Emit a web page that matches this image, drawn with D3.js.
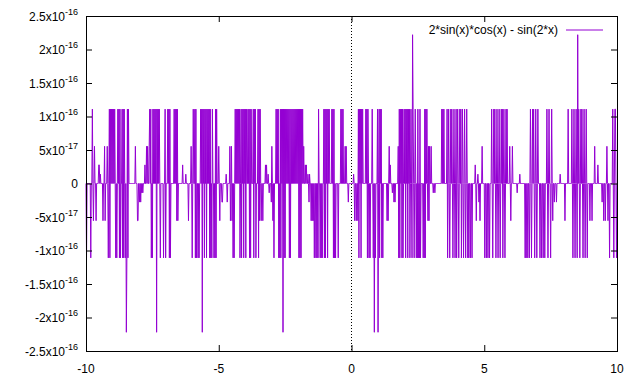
<!DOCTYPE html>
<html>
<head>
<meta charset="utf-8">
<script src="https://cdn.jsdelivr.net/npm/d3@7.9.0/dist/d3.min.js"></script>
<style>
  body { margin: 0; background: #fff; }
  svg { display: block; font-family: "Liberation Sans", Arial, sans-serif; }
</style>
</head>
<body>
<svg id="chart" width="640" height="384"></svg>
<script>
// 1001 samples over [-10, 10]; the error is exactly 0 at most of them.
// Non-zero samples: [sample index, value in units of 2^-55]
const sampleCount = 1001;
const unit = 2.7755575615628914e-17;
const nonzeroSamples = [
  [1,-4],[9,-4],[12,4],[14,-2],[16,2],[19,-2],[24,1],[25,1],[27,0.5],[32,-2],[35,2],[36,-2],[40,2],
  [42,-4],[44,4],[45,-4],[46,4],[48,4],[50,4],[52,4],[54,4],[56,-4],[58,-4],[60,4],[62,4],[63,-4],[64,4],[65,-4],
  [68,4],[69,-4],[70,4],[71,-4],[72,4],[74,-4],[76,-8],[77,-4],[78,4],[79,-4],[80,4],
  [93,2],[97,-2],[98,-2],[101,-1],[103,-1],[105,-0.5],[107,-0.5],[111,1],[114,2],[116,2],[119,2],[120,4],[122,4],
  [123,-4],[125,-4],[126,4],[128,4],[130,4],[132,4],
  [133,-8],[134,4],[136,4],[138,4],[140,-4],[146,-4],[149,4],[150,-4],[154,4],[156,4],[157,-4],[158,4],[159,-4],
  [166,4],[168,4],[170,4],[171,-2],[172,4],[173,-2],[182,1],[188,0.5],[193,-2],[198,2],[200,-4],[202,4],
  [205,4],[206,-4],[207,4],[208,-4],[211,-4],[213,-4],[216,4],[218,4],[219,-8],[220,4],
  [222,4],[223,-4],[224,4],[226,4],[227,-4],[228,4],[230,4],[232,4],[233,-4],[234,4],[235,-4],[237,-4],[238,4],
  [241,-4],[243,-4],[244,4],[245,-4],[246,4],[250,2],[252,-2],[256,-1],[257,-1],
  [264,0.5],[266,-1],[271,2],[272,-2],[274,2],[275,-2],[277,-4],[279,-4],[281,4],[283,4],[285,4],[287,4],
  [289,4],[290,-4],[292,4],[293,-4],[294,4],[296,4],[297,-4],[298,4],[300,4],[301,-4],[302,4],
  [305,4],[307,4],[308,-4],[309,4],[310,-4],[311,4],[315,4],[316,-4],[317,4],[319,4],[320,-4],
  [324,4],[325,-4],[326,4],[327,-2],[328,4],[330,-2],[333,-2],[338,1],[340,1],[343,0.5],[345,-0.5],
  [349,-1],[350,2],[352,-2],[354,-4],[358,4],[360,4],[362,4],[363,-4],[365,-4],[366,4],[367,-4],[368,4],
  [370,4],[371,-8],[372,4],[373,-4],[374,4],[375,-4],[376,4],[378,4],
  [380,4],[382,4],[383,-4],[384,4],[385,-4],[386,4],[388,4],[390,4],[392,4],[394,4],
  [396,4],[398,4],[400,4],[401,-4],[402,4],[403,-4],[404,4],[405,-4],[406,4],[408,4],
  [410,2],[413,1],[415,1],[418,0.5],[420,-1],[421,0.5],[424,-2],[426,-2],[428,-2],[430,-4],
  [433,-4],[435,-4],[437,-4],[438,4],[441,-4],[443,-4],[445,-4],
  [448,4],[449,-4],[450,4],[451,-4],[452,4],[454,4],[455,-4],[456,4],[458,4],
  [463,4],[465,4],[466,-4],[467,4],[468,-4],[470,-4],[475,-4],[480,4],[482,4],[484,4],
  [488,2],[490,2],[494,-1],[504,0.5],[506,-2],[509,-2],[512,-2],
  [513,4],[514,-4],[515,4],[517,4],[518,-4],[519,4],[521,4],
  [527,4],[529,4],[530,-4],[531,4],[533,-4],[535,-4],[539,4],[541,-4],[543,-8],[545,-4],
  [549,4],[550,-8],[552,4],[553,-4],[554,4],[556,4],[557,-4],[559,-4],
  [567,-2],[569,-2],[571,2],[573,1],[577,-0.5],[580,-1],[582,-1],[588,2],[589,-4],
  [590,4],[591,-4],[592,4],[594,4],[595,-4],[596,4],[597,-4],
  [599,4],[601,4],[602,-4],[603,4],[605,4],[606,-4],[607,4],
  [609,4],[610,-4],[612,4],[614,-4],[615,8],[616,4],[618,-4],[620,4],[622,-4],
  [624,-4],[625,4],[626,-4],[628,-4],[629,4],[630,-4],[635,-4],[637,-4],[638,4],[639,-4],[640,4],[642,4],
  [644,-2],[645,2],[646,-2],[647,2],[650,2],[654,-0.5],[657,-0.5],
  [670,4],[672,4],[674,4],[680,4],[681,-4],[683,4],[685,-4],[687,4],[689,4],[691,-4],[693,4],[695,-4],
  [697,4],[698,-4],[700,4],[702,-4],[704,4],[706,4],[707,-4],[709,4],[711,-4],[713,4],[715,-4],[717,4],
  [719,-4],[721,-4],[724,-4],[727,-4],[733,1],[735,-2],[738,0.5],[740,-1],[742,-2],[746,2],
  [751,-4],[754,-4],[757,-4],[760,-4],[764,4],[766,-4],[768,4],[770,4],[772,-4],[774,4],
  [776,-4],[778,4],[780,-4],[782,4],[784,4],[785,-4],[787,4],[789,-4],[791,4],[793,4],
  [798,2],[800,-2],[803,2],[812,-0.5],[817,0.5],
  [827,-4],[829,-4],[832,-4],[835,-4],[837,4],[839,-4],[841,4],[843,4],[845,-4],[847,4],[849,-4],[851,4],
  [855,-4],[858,-4],[861,-4],[864,-4],[868,4],[870,-4],[872,4],[875,-4],[877,4],
  [879,-2],[882,-1],[886,-1],[893,0.5],[902,-2],[908,4],
  [915,4],[917,-4],[919,4],[921,-4],[923,4],[925,-4],[926,8],
  [928,4],[930,-4],[932,4],[934,4],[936,-4],[938,4],[940,-4],[942,4],[944,-4],
  [949,-2],[953,-2],[958,2],[964,1],[972,-1],[975,-2],[978,-2],[981,2],[983,-2],[986,-4],
  [992,4],[994,-4],[996,4],[997,4],[999,-4]
];
const xDomain = [-10, 10];
const yDomain = [-2.5e-16, 2.5e-16];
const xTicks = [-10, -5, 0, 5, 10];
const yTicks = [-2.5e-16, -2e-16, -1.5e-16, -1e-16, -5e-17, 0, 5e-17, 1e-16, 1.5e-16, 2e-16, 2.5e-16];
const seriesName = "2*sin(x)*cos(x) - sin(2*x)";

const errValues = new Array(sampleCount).fill(0);
nonzeroSamples.forEach(([i, u]) => { errValues[i] = u * unit; });
const data = errValues.map((v, i) => ({
  x: xDomain[0] + i * (xDomain[1] - xDomain[0]) / (sampleCount - 1),
  y: v
}));

const plotL = 86, plotR = 617, plotT = 16, plotB = 351;
const svg = d3.select("#chart");

const x = d3.scaleLinear().domain(xDomain).range([plotL, plotR]);
const y = d3.scaleLinear().domain(yDomain).range([plotB, plotT]);

// zero axis (dotted)
svg.append("line")
  .attr("x1", x(0)).attr("x2", x(0))
  .attr("y1", plotT).attr("y2", plotB)
  .attr("stroke", "#000").attr("stroke-width", 1)
  .attr("stroke-dasharray", "1,2");

// the curve
const line = d3.line().x(d => x(d.x)).y(d => y(d.y));
svg.append("path")
  .datum(data)
  .attr("d", line)
  .attr("fill", "none")
  .attr("stroke", "#9400d3")
  .attr("stroke-width", 1);

// ticks, gnuplot style (inward, mirrored)
function tickAxis(axis, tx, ty) {
  const g = svg.append("g").attr("transform", `translate(${tx},${ty})`).call(axis);
  g.select(".domain").remove();
  g.selectAll("text").remove();
  g.selectAll("line").attr("stroke", "#000");
  return g;
}
tickAxis(d3.axisLeft(y).tickValues(yTicks).tickSize(-6), plotL, 0);
tickAxis(d3.axisRight(y).tickValues(yTicks).tickSize(-6), plotR, 0);
tickAxis(d3.axisBottom(x).tickValues(xTicks).tickSize(-6), 0, plotB);
tickAxis(d3.axisTop(x).tickValues(xTicks).tickSize(-6), 0, plotT);

// border
svg.append("rect")
  .attr("x", plotL + 0.5).attr("y", plotT + 0.5)
  .attr("width", plotR - plotL).attr("height", plotB - plotT)
  .attr("fill", "none").attr("stroke", "#000").attr("stroke-width", 1);

// y labels like 2.5x10^-16
yTicks.forEach(v => {
  const t = svg.append("text")
    .attr("x", plotL - 8).attr("y", y(v) + 4.5)
    .attr("text-anchor", "end")
    .attr("font-size", 12)
    .attr("fill", "#000");
  if (v === 0) { t.text("0"); return; }
  const [m, e] = v.toExponential().split("e");
  t.append("tspan").text(m + "x10");
  t.append("tspan").attr("font-size", 9).attr("dy", -6).text(String(+e));
});

// x labels
xTicks.forEach(v => {
  svg.append("text")
    .attr("x", x(v)).attr("y", 373)
    .attr("text-anchor", "middle")
    .attr("font-size", 12)
    .attr("fill", "#000")
    .text(v);
});

// key
svg.append("text")
  .attr("x", 558).attr("y", 34)
  .attr("text-anchor", "end")
  .attr("font-size", 12)
  .text(seriesName);
svg.append("line")
  .attr("x1", 566).attr("x2", 603)
  .attr("y1", 30).attr("y2", 30)
  .attr("stroke", "#9400d3").attr("stroke-width", 1);
</script>
</body>
</html>
